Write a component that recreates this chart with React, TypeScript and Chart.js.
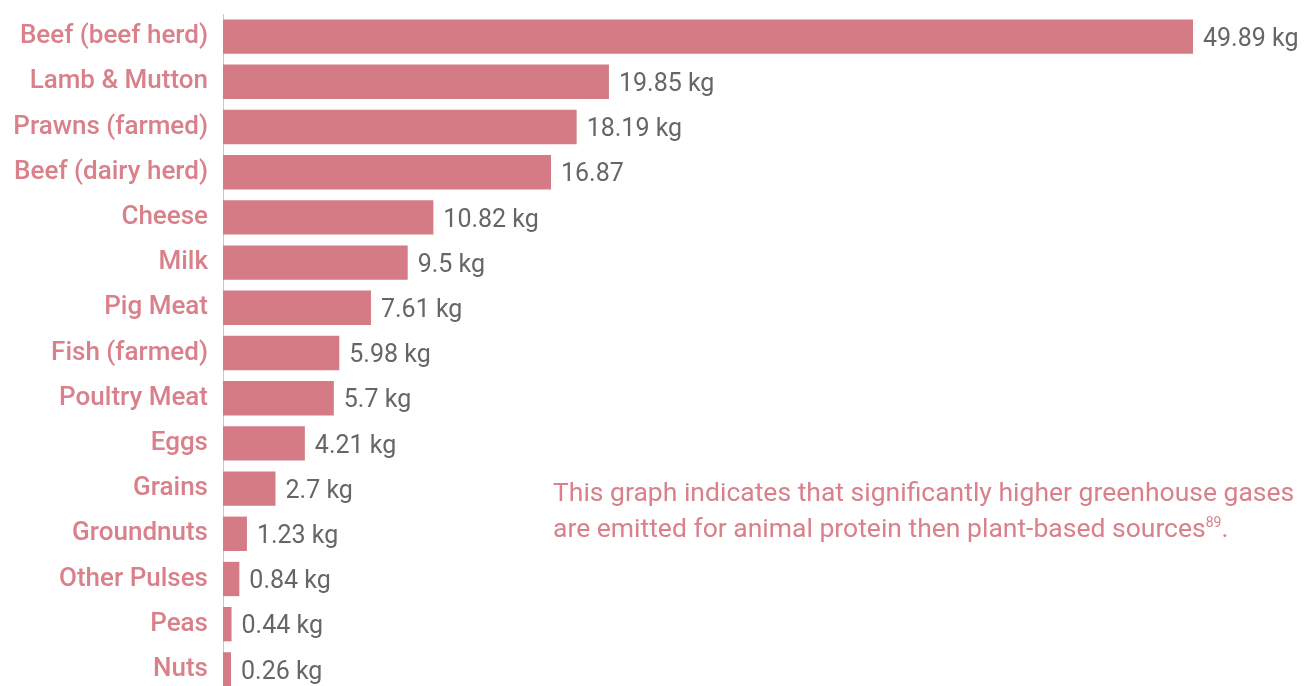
import React, { useEffect, useRef } from "react";
import { Chart, registerables } from "chart.js";

Chart.register(...registerables);

const categories = [
  "Beef (beef herd)",
  "Lamb & Mutton",
  "Prawns (farmed)",
  "Beef (dairy herd)",
  "Cheese",
  "Milk",
  "Pig Meat",
  "Fish (farmed)",
  "Poultry Meat",
  "Eggs",
  "Grains",
  "Groundnuts",
  "Other Pulses",
  "Peas",
  "Nuts",
];
const values = [49.89, 19.85, 18.19, 16.87, 10.82, 9.5, 7.61, 5.98, 5.7, 4.21, 2.7, 1.23, 0.84, 0.44, 0.26];
const valueLabels = [
  "49.89 kg", "19.85 kg", "18.19 kg", "16.87", "10.82 kg", "9.5 kg", "7.61 kg", "5.98 kg",
  "5.7 kg", "4.21 kg", "2.7 kg", "1.23 kg", "0.84 kg", "0.44 kg", "0.26 kg",
];
const noteLine1 = "This graph indicates that significantly higher greenhouse gases";
const noteLine2 = "are emitted for animal protein then plant-based sources";
const noteRef = "89";

const PINK = "#d47b85";
const LABEL_PINK = "#d9808a";
const GRAY = "#666666";
const FONT = "Roboto, 'DejaVu Sans', sans-serif";

const valueLabelPlugin = {
  id: "valueLabels",
  afterDatasetsDraw(chart: any) {
    const { ctx } = chart;
    const meta = chart.getDatasetMeta(0);
    ctx.save();
    ctx.font = `25px ${FONT}`;
    ctx.fillStyle = GRAY;
    ctx.textAlign = "left";
    ctx.textBaseline = "middle";
    meta.data.forEach((bar: any, i: number) => {
      ctx.fillText(valueLabels[i], bar.x + 10, bar.y + 3);
    });
    ctx.restore();
  },
};

export default function App() {
  const ref = useRef<HTMLCanvasElement>(null);
  useEffect(() => {
    if (!ref.current) return;
    const chart = new Chart(ref.current, {
      type: "bar",
      data: {
        labels: categories,
        datasets: [
          {
            data: values,
            backgroundColor: PINK,
            borderWidth: 0,
            barPercentage: 0.76,
            categoryPercentage: 1,
            minBarLength: 8,
          },
        ],
      },
      options: {
        indexAxis: "y",
        animation: false,
        responsive: false,
        maintainAspectRatio: false,
        layout: { padding: { top: 14, right: 116, bottom: 0, left: 0 } },
        plugins: { legend: { display: false }, tooltip: { enabled: false } },
        scales: {
          x: {
            min: 0,
            max: 49.89,
            display: false,
          },
          y: {
            grid: { display: false, drawTicks: false },
            border: { display: true, color: "#c8c8c8", width: 1 },
            ticks: {
              color: LABEL_PINK,
              font: { family: FONT, size: 26, weight: "500" },
              padding: 15,
            },
            afterFit(scale: any) {
              scale.width = 223;
              scale.paddingTop = 0;
              scale.paddingBottom = 0;
            },
          },
        },
      },
      plugins: [valueLabelPlugin],
    });
    return () => chart.destroy();
  }, []);

  return (
    <div style={{ position: "fixed", left: 0, top: 0, width: 1309, height: 686, overflow: "hidden", background: "#fff" }}>
      <canvas ref={ref} width={1309} height={692} style={{ position: "absolute", left: 0, top: 0, width: 1309, height: 692 }} />
      <div
        style={{
          position: "absolute",
          left: 553,
          top: 474,
          fontFamily: FONT,
          fontSize: 26.5,
          lineHeight: "36px",
          color: LABEL_PINK,
          whiteSpace: "nowrap",
        }}
      >
        <div>{noteLine1}</div>
        <div>
          {noteLine2}
          <sup style={{ fontSize: 14, verticalAlign: "top", lineHeight: "24px" }}>{noteRef}</sup>.
        </div>
      </div>
    </div>
  );
}
